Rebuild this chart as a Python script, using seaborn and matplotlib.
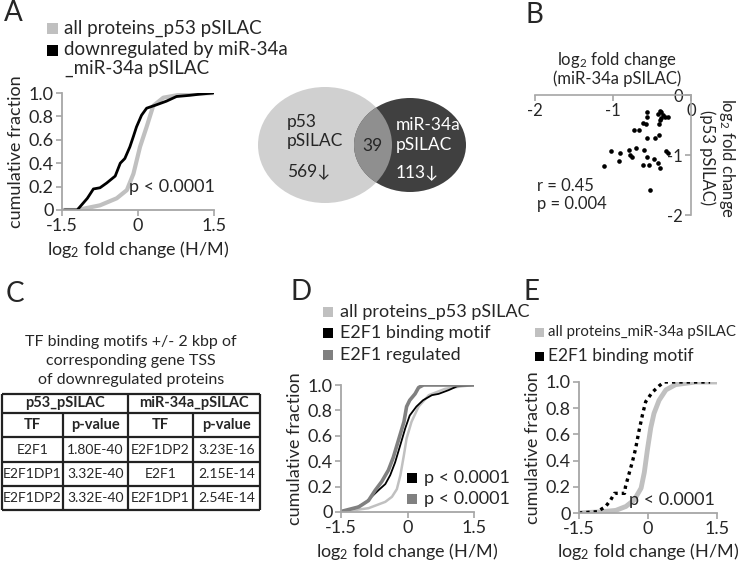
import numpy as np
import pandas as pd
import matplotlib
matplotlib.use('Agg')
import matplotlib.pyplot as plt
from matplotlib.patches import Ellipse, Rectangle
import seaborn as sns

# ---- data ----
# panel A: cumulative curves (x = log2 fold change, y = cumulative fraction)
a_all_x = [-1.5, -1.2, -0.75, -0.42, -0.22, -0.09, 0.04, 0.17, 0.30, 0.50, 0.89, 1.5]
a_all_y = [0.0, 0.0, 0.04, 0.10, 0.17, 0.31, 0.54, 0.71, 0.89, 0.96, 0.99, 1.0]
a_down_x = [-1.45, -1.2, -1.14, -1.0, -0.88, -0.75, -0.62, -0.45, -0.35, -0.26, -0.16, -0.09,
            -0.03, 0.07, 0.17, 0.37, 0.56, 0.76, 1.02, 1.22, 1.48]
a_down_y = [0.0, 0.0, 0.03, 0.10, 0.18, 0.19, 0.23, 0.29, 0.40, 0.44, 0.54, 0.63,
            0.71, 0.81, 0.87, 0.90, 0.93, 0.97, 0.98, 0.99, 1.0]

# Venn counts
n_p53_only = 569
n_mir_only = 113
n_overlap = 39

# panel B: scatter (miR-34a pSILAC vs p53 pSILAC)
b_mir = [-0.56, -0.56, -0.40, -0.38, -0.36, -0.42, -0.39, -0.33, -0.30, -0.40, -0.61, -0.58,
         -0.73, -0.67, -0.41, -0.57, -0.46, -0.41, -1.02, -0.91, -0.79, -0.70, -0.78, -0.76,
         -0.60, -0.57, -0.32, -0.30, -0.47, -0.42, -0.40, -0.92, -1.11, -0.62, -0.54, -0.53]
b_p53 = [-0.28, -0.36, -0.27, -0.29, -0.33, -0.32, -0.38, -0.36, -0.36, -0.42, -0.46, -0.48,
         -0.59, -0.59, -0.49, -0.72, -0.71, -0.67, -0.93, -0.97, -0.91, -0.89, -1.00, -1.03,
         -0.92, -1.03, -0.93, -0.96, -1.06, -1.14, -1.21, -1.10, -1.18, -1.17, -1.16, -1.59]

# panel C: table
tf_p53 = ['E2F1', 'E2F1DP1', 'E2F1DP2']
pval_p53 = ['1.80E-40', '3.32E-40', '3.32E-40']
tf_mir = ['E2F1DP2', 'E2F1', 'E2F1DP1']
pval_mir = ['3.23E-16', '2.15E-14', '2.54E-14']

# panel D
d_all_x = [-1.5, -0.88, -0.5, -0.35, -0.24, -0.16, -0.08, -0.02, 0.09, 0.25, 0.48, 0.85, 1.23, 1.5]
d_all_y = [0.0, 0.03, 0.08, 0.12, 0.18, 0.29, 0.45, 0.58, 0.71, 0.83, 0.92, 0.97, 0.99, 1.0]
d_motif_x = [-1.49, -1.18, -0.96, -0.81, -0.66, -0.50, -0.39, -0.28, -0.16, -0.05, 0.05, 0.20,
             0.35, 0.55, 0.70, 0.93, 1.12, 1.5]
d_motif_y = [0.005, 0.03, 0.07, 0.12, 0.17, 0.22, 0.29, 0.39, 0.53, 0.66, 0.76, 0.83,
             0.88, 0.92, 0.93, 0.96, 0.99, 1.0]
d_reg_x = [-1.49, -1.10, -0.88, -0.73, -0.58, -0.43, -0.32, -0.20, -0.08, -0.02, 0.05, 0.17,
           0.25, 0.36, 1.5]
d_reg_y = [0.005, 0.04, 0.09, 0.17, 0.24, 0.33, 0.43, 0.57, 0.71, 0.83, 0.88, 0.93,
           0.98, 1.0, 1.0]

# panel E
e_all_x = [-1.5, -0.99, -0.70, -0.48, -0.30, -0.15, -0.08, -0.01, 0.06, 0.13, 0.24, 0.39, 0.60, 1.04, 1.5]
e_all_y = [0.0, 0.01, 0.02, 0.05, 0.10, 0.19, 0.31, 0.49, 0.65, 0.76, 0.86, 0.94, 0.98, 1.0, 1.0]
e_motif_x = [-1.5, -1.1, -0.92, -0.81, -0.73, -0.51, -0.49, -0.42, -0.34, -0.27, -0.20, -0.12,
             -0.05, 0.09, 0.24, 0.35, 1.35]
e_motif_y = [0.0, 0.01, 0.05, 0.10, 0.15, 0.15, 0.20, 0.29, 0.39, 0.49, 0.62, 0.75,
             0.85, 0.92, 0.97, 1.0, 1.0]

sns.set_style('ticks')
plt.rcParams['font.family'] = ['Lato', 'DejaVu Sans']
plt.rcParams['mathtext.default'] = 'regular'

W, H = 740, 562
fig = plt.figure(figsize=(W / 100, H / 100), dpi=100)
FS = 13
AXC = '#a6a6a6'
LIGHT = '#c0c0c0'
MID = '#808080'


def px_axes(x0, y0, x1, y1):
    return fig.add_axes([x0 / W, 1 - y1 / H, (x1 - x0) / W, (y1 - y0) / H])


def ftext(x, y, s, **kw):
    kw.setdefault('fontsize', FS)
    fig.text(x / W, 1 - y / H, s, **kw)


def key(x, y, color, label, size=10, fs=FS, gap=7):
    fig.add_artist(Rectangle(((x - size / 2) / W, 1 - (y + size / 2) / H), size / W, size / H,
                             transform=fig.transFigure, color=color, lw=0))
    if label:
        ftext(x + size / 2 + gap, y, label, va='center', fontsize=fs)


def cdf_axes(box):
    ax = px_axes(*box)
    ax.set_xlim(-1.5, 1.5)
    ax.set_ylim(0, 1)
    ax.set_xticks([-1.5, 0, 1.5], ['-1.5', '0', '1.5'])
    ax.set_yticks([0, 0.2, 0.4, 0.6, 0.8, 1.0], ['0', '0.2', '0.4', '0.6', '0.8', '1.0'])
    sns.despine(ax=ax)
    for s in ['left', 'bottom']:
        ax.spines[s].set_color(AXC)
        ax.spines[s].set_linewidth(1.3)
    ax.tick_params(color=AXC, length=4, width=1.2, labelsize=FS, pad=2)
    ax.set_ylabel('cumulative fraction', fontsize=FS, labelpad=3)
    ax.set_xlabel('log$_2$ fold change (H/M)', fontsize=FS, labelpad=3)
    return ax


# ---- panel A ----
ftext(4, 13, 'A', fontsize=20, va='center')
key(52, 28, LIGHT, 'all proteins_p53 pSILAC', size=11, fs=13.5)
key(52, 50, 'black', 'downregulated by miR-34a', size=11, fs=13.5)
ftext(65, 68, '_miR-34a pSILAC', va='center', fontsize=13.5)
ax = cdf_axes((62, 93, 214, 210))
sns.lineplot(x=a_all_x, y=a_all_y, ax=ax, color=LIGHT, lw=3, estimator=None)
sns.lineplot(x=a_down_x, y=a_down_y, ax=ax, color='black', lw=2, estimator=None)
ax.text(1.52, 0.2, 'p < 0.0001', ha='right', va='center', fontsize=FS)

# ---- Venn ----
VFS = 12.5
vax = px_axes(240, 78, 480, 215)
vax.set_xlim(240, 480)
vax.set_ylim(215, 78)
vax.axis('off')
big = Ellipse((325, 145), 134, 116, color='#d0d0d0', lw=0)
small = Ellipse((410, 145), 112, 94, color='#404040', lw=0)
vax.add_patch(big)
vax.add_patch(small)
ov = Ellipse((325, 145), 134, 116, color='#8f8f8f', lw=0)
vax.add_patch(ov)
ov.set_clip_path(small)
vax.text(287, 122, 'p53', fontsize=VFS, va='center')
vax.text(287, 141, 'pSILAC', fontsize=VFS, va='center')
vax.text(287, 171, f'{n_p53_only}\u2193', fontsize=VFS, va='center')
vax.text(372, 146, f'{n_overlap}', fontsize=VFS, va='center', ha='center')
vax.text(396, 125, 'miR-34a', fontsize=VFS, va='center', color='white')
vax.text(396, 145, 'pSILAC', fontsize=VFS, va='center', color='white')
vax.text(396, 172, f'{n_mir_only}\u2193', fontsize=VFS, va='center', color='white')

# ---- panel B ----
BFS = 12
ftext(526, 15, 'B', fontsize=20, va='center')
bx = px_axes(535, 95, 691, 215)
bx.set_xlim(-2, 0)
bx.set_ylim(-2, 0)
sns.scatterplot(x=b_mir, y=b_p53, ax=bx, color='black', s=11, linewidth=0)
for s in ['top', 'right']:
    bx.spines[s].set_visible(False)
bx.spines['bottom'].set_position(('data', 0))
bx.spines['left'].set_position(('data', 0))
for s in ['left', 'bottom']:
    bx.spines[s].set_color(AXC)
    bx.spines[s].set_linewidth(1.2)
bx.set_xticks([-2, -1, 0], ['-2', '-1', '0'])
bx.set_yticks([-2, -1, 0], ['-2', '-1', '0'])
bx.tick_params(color=AXC, length=4, width=1.2, labelsize=BFS, pad=2)
ftext(617, 60, 'log$_2$ fold change', ha='center', va='center', fontsize=BFS)
ftext(617, 79, '(miR-34a pSILAC)', ha='center', va='center', fontsize=BFS)
ftext(718, 158, 'log$_2$ fold change\n(p53 pSILAC)', ha='center', va='center',
      rotation=270, linespacing=1.15, fontsize=BFS)
ftext(537, 186, 'r = 0.45', va='center', fontsize=BFS)
ftext(537, 204, 'p = 0.004', va='center', fontsize=BFS)

# ---- panel C ----
ftext(15, 294, 'C', fontsize=20, va='center', ha='center')
ftext(131, 342, 'TF binding motifs +/- 2 kbp of', ha='center', va='center', fontsize=11.5)
ftext(131, 361, 'corresponding gene TSS', ha='center', va='center', fontsize=11.5)
ftext(131, 380, 'of downregulated proteins', ha='center', va='center', fontsize=11.5)
tx = px_axes(0, 390, 262, 514)
tx.set_xlim(0, 262)
tx.set_ylim(514, 390)
tx.axis('off')
cols = [2, 63, 128, 193, 260]
rows = [394, 413, 437, 462, 486, 510]
TFS = 10
tx.hlines(rows, cols[0], cols[-1], color='#222222', lw=1.6)
tx.vlines([cols[0], cols[2], cols[4]], rows[0], rows[-1], color='#222222', lw=1.6)
tx.vlines([cols[1], cols[3]], rows[1], rows[-1], color='#222222', lw=1.6)
tx.text((cols[0] + cols[2]) / 2, (rows[0] + rows[1]) / 2, 'p53_pSILAC', ha='center',
        va='center', fontsize=TFS + 0.5, fontweight='bold')
tx.text((cols[2] + cols[4]) / 2, (rows[0] + rows[1]) / 2, 'miR-34a_pSILAC', ha='center',
        va='center', fontsize=TFS + 0.5, fontweight='bold')
for i, h in enumerate(['TF', 'p-value', 'TF', 'p-value']):
    tx.text((cols[i] + cols[i + 1]) / 2, (rows[1] + rows[2]) / 2, h, ha='center',
            va='center', fontsize=TFS + 0.5, fontweight='bold')
for r in range(3):
    yc = (rows[r + 2] + rows[r + 3]) / 2
    for i, v in enumerate([tf_p53[r], pval_p53[r], tf_mir[r], pval_mir[r]]):
        tx.text((cols[i] + cols[i + 1]) / 2, yc, v, ha='center', va='center', fontsize=TFS)

# ---- panel D ----
ftext(301, 292, 'D', fontsize=20, va='center', ha='center')
key(328, 312, LIGHT, 'all proteins_p53 pSILAC')
key(328, 333, 'black', 'E2F1 binding motif')
key(328, 355, MID, 'E2F1 regulated')
dx = cdf_axes((341, 385, 474, 512))
sns.lineplot(x=d_all_x, y=d_all_y, ax=dx, color=LIGHT, lw=1.8, estimator=None)
sns.lineplot(x=d_motif_x, y=d_motif_y, ax=dx, color='black', lw=1.3, estimator=None)
sns.lineplot(x=d_reg_x, y=d_reg_y, ax=dx, color=MID, lw=2.6, estimator=None)
key(412, 478, 'black', 'p < 0.0001')
key(412, 499, MID, 'p < 0.0001')

# ---- panel E ----
ftext(532, 292, 'E', fontsize=20, va='center', ha='center')
key(539, 332, LIGHT, 'all proteins_miR-34a pSILAC', size=9, fs=10.8, gap=5)
key(539, 356, 'black', 'E2F1 binding motif', size=9, fs=12.5, gap=5)
ex = cdf_axes((579, 382, 717, 513))
sns.lineplot(x=e_all_x, y=e_all_y, ax=ex, color=LIGHT, lw=3.5, estimator=None)
sns.lineplot(x=e_motif_x, y=e_motif_y, ax=ex, color='black', lw=2.4, estimator=None,
             linestyle=(0, (1, 1.2)))
ex.text(1.45, 0.1, 'p < 0.0001', ha='right', va='center', fontsize=FS)

fig.savefig('out.png', dpi=100)
